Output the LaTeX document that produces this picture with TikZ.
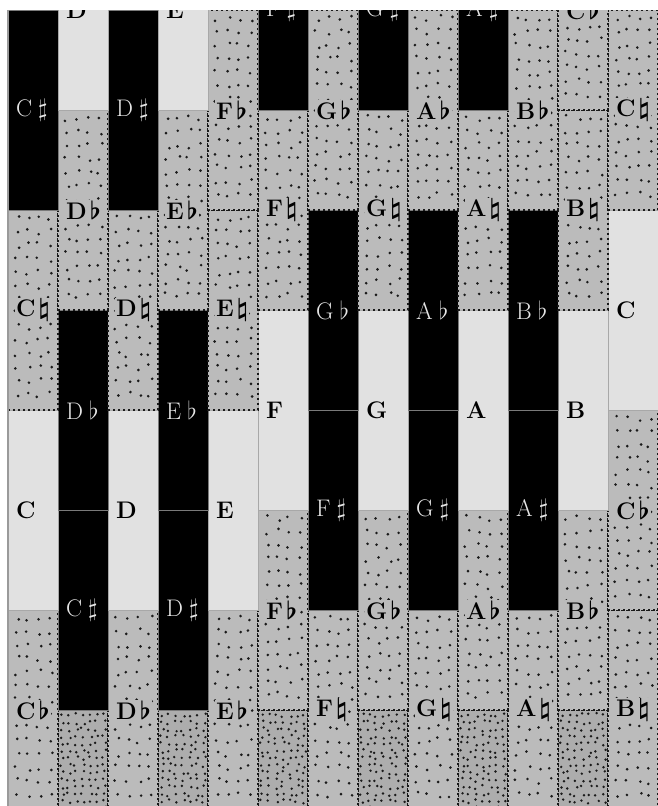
\documentclass[tikz,border=0pt]{standalone}
\definecolor{wcol}{HTML}{E1E1E1}
\definecolor{gcol}{HTML}{BBBBBB}
\definecolor{dcol}{HTML}{ADADAD}
\definecolor{dotc}{HTML}{1A1A1A}
\definecolor{wline}{HTML}{A8A8A8}
\definecolor{kline}{HTML}{7A7A7A}
\definecolor{ktext}{HTML}{E6E6E6}
\definecolor{frame}{HTML}{9A9A9A}
\tikzset{
  wcell/.style={fill=wcol, draw=wline, line width=1pt},
  kcell/.style={fill=black, draw=kline, line width=1pt},
  gcell/.style={fill=gcol},
  dcell/.style={fill=dcol},
  dotline/.style={draw=dotc, line width=1.7pt, dash pattern=on 1.7pt off 3.3pt},
  stip/.style={fill=dotc},
  glab/.style={anchor=west, inner sep=1pt, fill=gcol, text=black,
    font=\fontsize{24}{24}\selectfont\bfseries\boldmath},
  wlab/.style={anchor=west, inner sep=1pt, text=black,
    font=\fontsize{24}{24}\selectfont\bfseries\boldmath},
  klab/.style={anchor=west, inner sep=1pt, text=ktext,
    font=\fontsize{24}{24}\selectfont},
}
\newcommand\mylab[2]{#1\kern3pt$#2$}
\newcommand\myklab[2]{#1\kern6pt$#2$}
\newcommand\cellgeo[2]{%
  \pgfmathsetmacro\xa{8+50*#1}\pgfmathsetmacro\xb{\xa+50}%
  \pgfmathsetmacro\yb{#2+200}\pgfmathsetmacro\ym{#2+100}}
% white cell: col, top, label
\newcommand\Wc[3]{\cellgeo{#1}{#2}%
  \path[wcell] (\xa,#2) rectangle (\xb,\yb);
  \node[wlab] (W#1r#2) at (\xa+7,\ym) {#3};}
% black cell
\newcommand\Kc[3]{\cellgeo{#1}{#2}%
  \path[kcell] (\xa,#2) rectangle (\xb,\yb);
  \node[klab] (K#1r#2) at (\xa+7,\ym) {#3};}
% gray cell, sparse dots
\newcommand\Gc[3]{\cellgeo{#1}{#2}%
  \path[gcell] (\xa,#2) rectangle (\xb,\yb);
  \foreach \r in {0,...,13}{\foreach \c in {0,...,3}{
    \pgfmathsetmacro\px{\xa+9+11*\c+2.5*rand}
    \pgfmathsetmacro\py{#2+8+13.6*\r+3*rand}
    \fill[stip] (\px,\py) circle (1.45);}}
  \draw[dotline] (\xa,#2) rectangle (\xb,\yb);
  \node[glab] (G#1r#2) at (\xa+7,\ym) {#3};}
% dense cell
\newcommand\Dc[2]{\cellgeo{#1}{#2}%
  \path[dcell] (\xa,#2) rectangle (\xb,\yb);
  \foreach \r in {0,...,13}{\foreach \c in {0,...,6}{
    \pgfmathsetmacro\px{\xa+4+7*\c+2*rand}
    \pgfmathsetmacro\py{#2+5+7.2*\r+2*rand}
    \fill[stip] (\px,\py) circle (1.35);}}
  \draw[dotline] (\xa,#2) rectangle (\xb,\yb);}
\begin{document}
\begin{tikzpicture}[x=1pt,y=-1pt]
\useasboundingbox[fill=white] (0,0) rectangle (658,806);
\pgfmathsetseed{12345}
\begin{scope}
\clip (8,10) rectangle (658,806);
% top 710 (dense)
\Dc{1}{710}\Dc{3}{710}\Dc{5}{710}\Dc{7}{710}\Dc{9}{710}\Dc{11}{710}
% top 610
\Gc{0}{610}{\mylab{C}{\flat}}
\Gc{2}{610}{\mylab{D}{\flat}}
\Gc{4}{610}{\mylab{E}{\flat}}
\Gc{6}{610}{\mylab{F}{\natural}}
\Gc{8}{610}{\mylab{G}{\natural}}
\Gc{10}{610}{\mylab{A}{\natural}}
\Gc{12}{610}{\mylab{B}{\natural}}
% top 510
\Kc{1}{510}{\myklab{C}{\sharp}}
\Kc{3}{510}{\myklab{D}{\sharp}}
\Gc{5}{510}{\mylab{F}{\flat}}
\Gc{7}{510}{\mylab{G}{\flat}}
\Gc{9}{510}{\mylab{A}{\flat}}
\Gc{11}{510}{\mylab{B}{\flat}}
% top 410
\Wc{0}{410}{C}
\Wc{2}{410}{D}
\Wc{4}{410}{E}
\Kc{6}{410}{\myklab{F}{\sharp}}
\Kc{8}{410}{\myklab{G}{\sharp}}
\Kc{10}{410}{\myklab{A}{\sharp}}
\Gc{12}{410}{\mylab{C}{\flat}}
% top 310
\Kc{1}{310}{\myklab{D}{\flat}}
\Kc{3}{310}{\myklab{E}{\flat}}
\Wc{5}{310}{F}
\Wc{7}{310}{G}
\Wc{9}{310}{A}
\Wc{11}{310}{B}
% top 210
\Gc{0}{210}{\mylab{C}{\natural}}
\Gc{2}{210}{\mylab{D}{\natural}}
\Gc{4}{210}{\mylab{E}{\natural}}
\Kc{6}{210}{\myklab{G}{\flat}}
\Kc{8}{210}{\myklab{A}{\flat}}
\Kc{10}{210}{\myklab{B}{\flat}}
\Wc{12}{210}{C}
% top 110
\Gc{1}{110}{\mylab{D}{\flat}}
\Gc{3}{110}{\mylab{E}{\flat}}
\Gc{5}{110}{\mylab{F}{\natural}}
\Gc{7}{110}{\mylab{G}{\natural}}
\Gc{9}{110}{\mylab{A}{\natural}}
\Gc{11}{110}{\mylab{B}{\natural}}
% top 10
\Kc{0}{10}{\myklab{C}{\sharp}}
\Kc{2}{10}{\myklab{D}{\sharp}}
\Gc{4}{10}{\mylab{F}{\flat}}
\Gc{6}{10}{\mylab{G}{\flat}}
\Gc{8}{10}{\mylab{A}{\flat}}
\Gc{10}{10}{\mylab{B}{\flat}}
\Gc{12}{10}{\mylab{C}{\natural}}
% top -90
\Wc{1}{-90}{D}
\Wc{3}{-90}{E}
\Kc{5}{-90}{\myklab{F}{\sharp}}
\Kc{7}{-90}{\myklab{G}{\sharp}}
\Kc{9}{-90}{\myklab{A}{\sharp}}
\Gc{11}{-90}{\mylab{C}{\flat}}
\end{scope}
\coordinate (ftop) at (8,10);
\coordinate (fbot) at (8,806);
\draw[frame, line width=1.2pt] (ftop) -- (fbot);
\end{tikzpicture}
\end{document}
